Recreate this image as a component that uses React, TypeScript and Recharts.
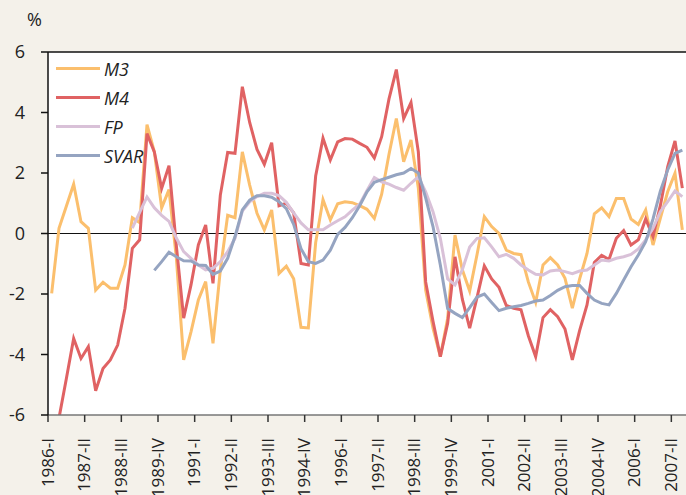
import React from 'react';
import { LineChart, Line, XAxis, YAxis, CartesianGrid, ReferenceLine } from 'recharts';

// Quarterly series, 1986-I .. 2007-III (87 quarters)
const m3: (number | null)[] = [
  -1.98, 0.17, 0.9, 1.63, 0.39, 0.17, -1.87, -1.61, -1.81, -1.81,
  -1.04, 0.52, 0.36, 3.6, 2.7, 0.85, 1.45, -0.8, -4.18, -3.25,
  -2.2, -1.59, -3.63, -1.2, 0.6, 0.52, 2.7, 1.6, 0.67, 0.12,
  0.78, -1.32, -1.08, -1.5, -3.1, -3.12, -0.3, 1.12, 0.45, 0.98,
  1.05, 1.02, 0.92, 0.8, 0.5, 1.3, 2.62, 3.8, 2.37, 3.09,
  1.5, -1.87, -3.13, -4.07, -2.8, -0.05, -1.2, -1.9, -0.7, 0.56,
  0.23, 0.0, -0.55, -0.66, -0.7, -1.6, -2.28, -1.04, -0.8, -1.04,
  -1.48, -2.47, -1.5, -0.66, 0.65, 0.85, 0.56, 1.16, 1.16, 0.48,
  0.3, 0.78, -0.38, 0.5, 1.38, 1.99, 0.12,
];

const m4: (number | null)[] = [
  null, -6.1, -4.8, -3.47, -4.13, -3.74, -5.2, -4.46, -4.18, -3.69,
  -2.47, -0.49, -0.21, 3.3, 2.7, 1.49, 2.24, -0.4, -2.8, -1.7,
  -0.38, 0.28, -1.65, 1.27, 2.68, 2.65, 4.85, 3.67, 2.78, 2.29,
  3.0, 0.92, 1.0, 0.68, -0.99, -1.04, 1.9, 3.15, 2.43, 3.03,
  3.14, 3.12, 2.98, 2.85, 2.5, 3.2, 4.45, 5.42, 3.8, 4.33,
  2.7, -1.6, -2.9, -4.07, -2.97, -0.77, -2.17, -3.13, -2.12, -1.07,
  -1.5, -1.78, -2.38, -2.47, -2.52, -3.38, -4.07, -2.78, -2.52, -2.75,
  -3.16, -4.18, -3.2, -2.36, -0.96, -0.72, -0.86, -0.16, 0.1, -0.38,
  -0.21, 0.48, -0.1, 0.92, 2.2, 3.06, 1.5,
];

const fp: (number | null)[] = [
  null, null, null, null, null, null, null, null, null, null,
  null, 0.18, 0.7, 1.21, 0.85, 0.6, 0.4, -0.15, -0.6, -0.82,
  -1.04, -1.2, -1.15, -0.93, -0.6, -0.16, 0.74, 1.05, 1.22, 1.33,
  1.33, 1.25, 1.03, 0.68, 0.35, 0.12, 0.12, 0.12, 0.28, 0.42,
  0.55, 0.77, 0.97, 1.42, 1.85, 1.71, 1.63, 1.52, 1.43, 1.66,
  1.88, 1.38, 0.72, -0.16, -1.5, -1.7, -1.2, -0.45, -0.16, -0.14,
  -0.44, -0.77, -0.69, -0.82, -1.04, -1.21, -1.35, -1.37, -1.24, -1.21,
  -1.26, -1.33, -1.24, -1.21, -1.04, -0.88, -0.91, -0.82, -0.77, -0.69,
  -0.51, -0.21, 0.17, 0.72, 1.05, 1.41, 1.22,
];

const svar: (number | null)[] = [
  null, null, null, null, null, null, null, null, null, null,
  null, null, null, null, -1.22, -0.93, -0.62, -0.77, -0.9, -0.91,
  -1.04, -1.06, -1.35, -1.24, -0.82, -0.1, 0.78, 1.1, 1.25, 1.25,
  1.2, 1.05, 0.82, 0.3, -0.5, -0.93, -0.99, -0.88, -0.55, -0.03,
  0.2, 0.52, 0.92, 1.38, 1.69, 1.78, 1.86, 1.94, 2.0, 2.15,
  2.0, 1.18, 0.23, -1.04, -2.48, -2.64, -2.78, -2.45, -2.1, -2.0,
  -2.28, -2.55, -2.47, -2.42, -2.38, -2.31, -2.23, -2.2, -2.05, -1.88,
  -1.76, -1.72, -1.72, -1.98, -2.2, -2.31, -2.36, -1.98, -1.54, -1.1,
  -0.71, -0.27, 0.48, 1.4, 2.1, 2.65, 2.76,
];

const tickLabels = [
  '1986-I', '1987-II', '1988-III', '1989-IV', '1991-I', '1992-II',
  '1993-III', '1994-IV', '1996-I', '1997-II', '1998-III', '1999-IV',
  '2001-I', '2002-II', '2003-III', '2004-IV', '2006-I', '2007-II',
];
const yTicks = [-6, -4, -2, 0, 2, 4, 6];

const series = [
  { key: 'M3', color: '#FBBF6D', values: m3 },
  { key: 'M4', color: '#E06263', values: m4 },
  { key: 'FP', color: '#D9C1D8', values: fp },
  { key: 'SVAR', color: '#95A4C1', values: svar },
];

const data = m3.map((_, i) => {
  const row: Record<string, number | null> = { q: i + 0.5 };
  series.forEach((s) => {
    row[s.key] = s.values[i];
  });
  return row;
});

const xTicks = tickLabels.map((_, k) => k * 5);

const FONT = '"Open Sans", "DejaVu Sans", sans-serif';

const XTick = (props: any) => {
  const { x, y, payload } = props;
  const label = tickLabels[Math.round(payload.value / 5)];
  return (
    <text
      x={x}
      y={y}
      transform={`rotate(-90, ${x}, ${y})`}
      textAnchor="end"
      dy="0.33em"
      fontSize={17}
      fontFamily={FONT}
      fill="#222"
    >
      {label}
    </text>
  );
};

export default function App() {
  return (
    <div
      style={{
        position: 'absolute',
        left: 0,
        top: 0,
        width: 686,
        height: 495,
        background: '#F4F1EA',
        overflow: 'hidden',
        fontFamily: FONT,
      }}
    >
      <LineChart
        width={686}
        height={495}
        data={data}
        margin={{ top: 52, right: 0, bottom: 0, left: 0 }}
      >
        <CartesianGrid horizontal={false} vertical={false} fill="#ffffff" fillOpacity={1} />
        <XAxis
          dataKey="q"
          type="number"
          domain={[0, 87]}
          ticks={xTicks}
          interval={0}
          height={80}
          tickSize={7}
          tickMargin={16}
          tick={<XTick />}
          axisLine={{ stroke: '#777', strokeWidth: 1.5 }}
          tickLine={{ stroke: '#333', strokeWidth: 1.5 }}
        />
        <YAxis
          type="number"
          domain={[-6, 6]}
          ticks={yTicks}
          allowDataOverflow
          width={48}
          tickSize={7}
          tickMargin={16}
          tick={{ fontSize: 18, fill: '#222', fontFamily: FONT }}
          axisLine={{ stroke: '#111', strokeWidth: 1.5 }}
          tickLine={{ stroke: '#111', strokeWidth: 1.5 }}
        />
        <ReferenceLine y={6} stroke="#111" strokeWidth={1.5} />
        <ReferenceLine y={0} stroke="#111" strokeWidth={1.2} />
        {series.map((s) => (
          <Line
            key={s.key}
            dataKey={s.key}
            type="linear"
            stroke={s.color}
            strokeWidth={3}
            dot={false}
            activeDot={false}
            isAnimationActive={false}
            connectNulls={false}
          />
        ))}
      </LineChart>
      <div
        style={{
          position: 'absolute',
          left: 27,
          top: 7,
          fontSize: 18,
          color: '#222',
          lineHeight: '24px',
        }}
      >
        %
      </div>
      <div style={{ position: 'absolute', left: 56, top: 54 }}>
        {series.map((s) => (
          <div
            key={s.key}
            style={{ display: 'flex', alignItems: 'center', height: 29 }}
          >
            <div style={{ width: 44, height: 3, background: s.color }} />
            <span
              style={{
                marginLeft: 4,
                fontStyle: 'italic',
                fontSize: 18,
                color: '#222',
              }}
            >
              {s.key}
            </span>
          </div>
        ))}
      </div>
    </div>
  );
}
